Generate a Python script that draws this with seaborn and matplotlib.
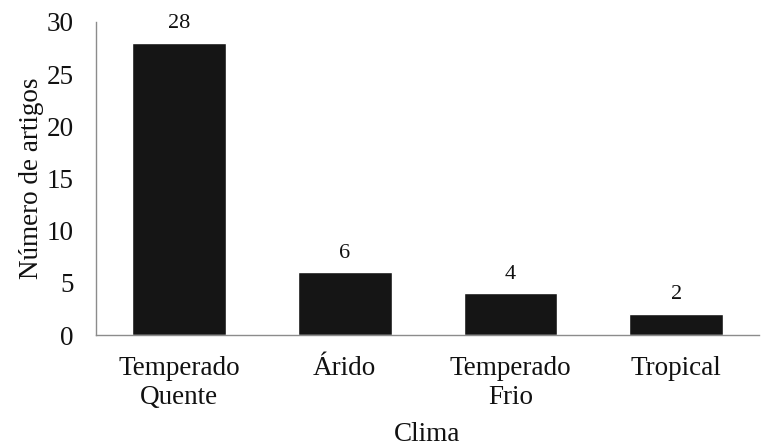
import matplotlib
matplotlib.use("Agg")
import matplotlib.pyplot as plt
import seaborn as sns
import pandas as pd

# Number of articles per climate type
climas = ["Temperado\nQuente", "Árido", "Temperado\nFrio", "Tropical"]
artigos = [28, 6, 4, 2]
y_ticks = [0, 5, 10, 15, 20, 25, 30]

sns.set_theme(style="white")
plt.rcParams["font.family"] = ["Liberation Serif", "DejaVu Serif"]

df = pd.DataFrame({"Clima": climas, "Artigos": artigos})

fig = plt.figure(figsize=(7.66, 4.48), dpi=100)
ax = fig.add_axes([0.1253, 0.2522, 0.8657, 0.6988])

sns.barplot(data=df, x="Clima", y="Artigos", color="#151515",
            saturation=1, width=0.566, ax=ax)

for bar, val in zip(ax.patches, artigos):
    ax.annotate(str(val), (bar.get_x() + bar.get_width() / 2, bar.get_height()),
                xytext=(0, 7), textcoords="offset points",
                ha="center", va="bottom", fontsize=16, color="#111111")

ax.set_ylim(0, 30)
ax.set_xlim(-0.5, 3.5)
ax.set_yticks(y_ticks)
ax.tick_params(axis="both", length=0, labelsize=19.5, colors="#111111")
ax.tick_params(axis="x", pad=15)
ax.tick_params(axis="y", pad=16)

ax.set_xlabel("Clima", fontsize=19.5, color="#111111", labelpad=9)
ax.set_ylabel("Número de artigos", fontsize=19.5, color="#111111", labelpad=2)

for side in ["top", "right"]:
    ax.spines[side].set_visible(False)
for side in ["left", "bottom"]:
    ax.spines[side].set_color("#8c8c8c")
    ax.spines[side].set_linewidth(1.0)

fig.savefig("out.png", dpi=100)
